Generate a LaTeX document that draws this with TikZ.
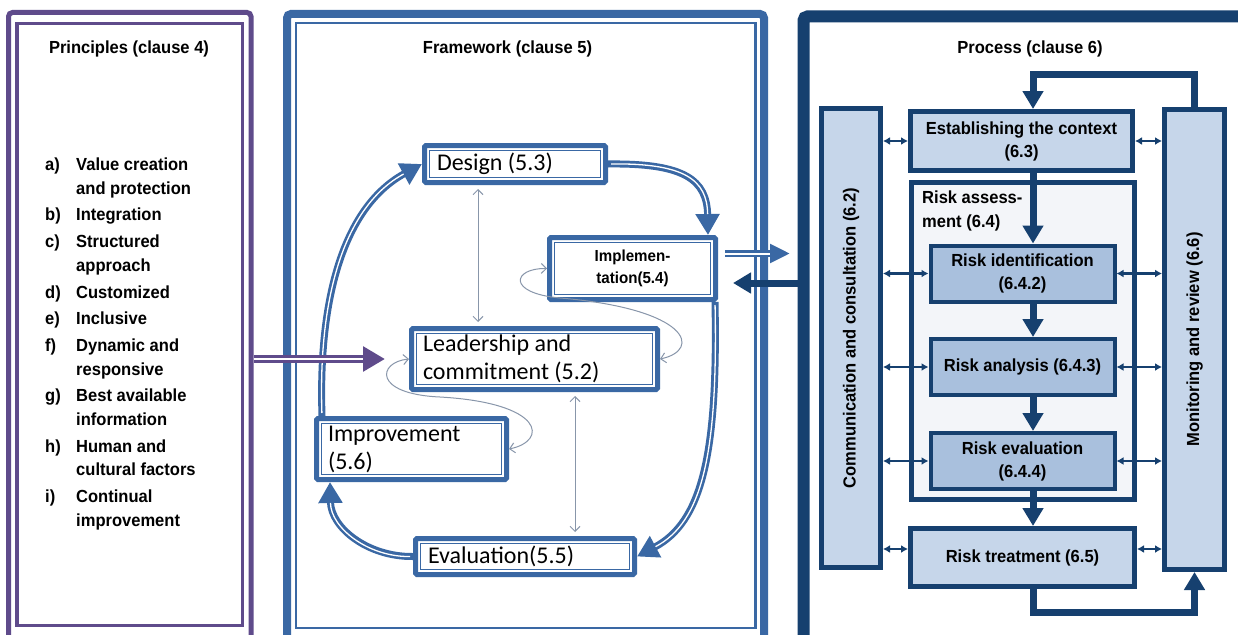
\documentclass[tikz,border=0pt]{standalone}
\usepackage{fontspec}
\setmainfont[FakeStretch=0.945]{Liberation Sans}
\newfontfamily\boxfont{Carlito}
\usetikzlibrary{arrows.meta,calc}

\definecolor{prin}{HTML}{5F4B8B}
\definecolor{fw}{HTML}{3A68A4}
\definecolor{navy}{HTML}{16406F}
\definecolor{lightfill}{HTML}{C6D6EA}
\definecolor{midfill}{HTML}{A9C0DD}
\definecolor{pale}{HTML}{F3F5F9}
\definecolor{thingray}{HTML}{8896AA}

\begin{document}
\begin{tikzpicture}[x=1pt,y=-1pt,
  every node/.append style={execute at begin node={\spaceskip=0pt\xspaceskip=0pt\relax}},
  frame/.style={draw=#1, rounded corners=4, inner sep=0},
  hd/.style={font=\fontsize{17.5}{20}\selectfont\bfseries},
  fwbox/.style={draw=fw, line width=5, rounded corners=1.5, fill=white, inner ysep=0,
    font=\boxfont\fontsize{24}{28}\selectfont, align=left},
  fwinner/.style={draw=fw, line width=1.5},
  fwarrow/.style={draw=fw, line width=7, -{Triangle[width=23pt,length=21pt]},
    postaction={draw=white, line width=1.3, -, shorten >=21pt, shorten <=3pt}},
  thinarr/.style={draw=thingray, line width=1,
    {Straight Barb[length=5pt,width=10pt]}-{Straight Barb[length=5pt,width=10pt]}},
  psbox/.style={draw=navy, line width=5, fill=lightfill, inner sep=0, align=center,
    font=\fontsize{17.5}{23}\selectfont\bfseries},
  riskbox/.style={psbox, line width=4, fill=midfill},
  bigarrow/.style={draw=navy, line width=7, -{Triangle[width=20pt,length=18pt]}},
  smallarr/.style={draw=navy, line width=2.5,
    {Latex[width=8pt,length=7pt]}-{Latex[width=8pt,length=7pt]}}
]
\useasboundingbox (0,0) rectangle (1238,634);
\clip (0,0) rectangle (1238,634);
\fill[white] (0,0) rectangle (1238,634);

% ---------- the three panels ----------
\node[frame=prin, line width=5, minimum width=242.5, minimum height=632.5] (pr) at (129.75,328.75) {};
\draw[prin, line width=3.5] (17,23.5) rectangle (242.5,625.5);

\node[frame=fw, line width=8, minimum width=477, minimum height=631] (fwk) at (525.5,329.5) {};
\draw[fw, line width=2.5] (296,23) rectangle (755.5,628);

\node[frame=navy, line width=12, minimum width=446.5, minimum height=628.5] (prc) at (1026.75,330.75) {};

% ---------- titles ----------
\node[hd, anchor=base] (prtitle) at (129,53.3) {Principles (clause 4)};
\node[hd, anchor=base] (fwtitle) at (507.5,53.3) {Framework (clause 5)};
\node[hd, anchor=base] (pctitle) at (1030,53.3) {Process (clause 6)};

% ---------- principles list ----------
\node[anchor=north west, inner sep=0, font=\fontsize{17.5}{23.5}\selectfont\bfseries] (plist) at (45,154) {%
\begin{tabular}{@{}p{31pt}@{}l@{}}
a) & Value creation\\ & and protection\\[3.3pt]
b) & Integration\\[3.3pt]
c) & Structured\\ & approach\\[3.3pt]
d) & Customized\\[3.3pt]
e) & Inclusive\\[3.3pt]
f) & Dynamic and\\ & responsive\\[3.3pt]
g) & Best available\\ & information\\[3.3pt]
h) & Human and\\ & cultural factors\\[3.3pt]
i) & Continual\\ & improvement
\end{tabular}};

% ---------- framework cycle ----------
\node[fwbox, inner xsep=12.5, text width=156, minimum width=181, minimum height=37] (des) at (515,164) {Design (5.3)};
\node[fwbox, inner xsep=8, text width=150, minimum width=166, minimum height=62, align=center,
  font=\fontsize{16}{22}\selectfont\bfseries] (imp) at (632.5,268.5) {Implemen-\\tation(5.4)};
\node[fwbox, inner xsep=11.5, text width=223, minimum width=246, minimum height=61] (lead) at (534.5,359) {Leadership and\\commitment (5.2)};
\node[fwbox, inner xsep=11.5, text width=167, minimum width=190, minimum height=61] (impr) at (411.5,449) {Improvement\\(5.6)};
\node[fwbox, inner xsep=12.5, text width=194, minimum width=219, minimum height=36] (eva) at (525,556.5) {Evaluation(5.5)};
\foreach \n in {des,imp,lead,impr,eva}
  \draw[fwinner] ([shift={(7.5,7.5)}]\n.north west) rectangle ([shift={(-7.5,-7.5)}]\n.south east);

\draw[fwarrow] (des.east) .. controls (685,163) and (707,180) .. ([shift={(-10,0)}]imp.north east);
\draw[fwarrow] ([shift={(-3,0)}]imp.south east) .. controls (718,455) and (702,522) .. (eva.east);
\draw[fwarrow] (eva.west) .. controls (368,557) and (331,528) .. ([shift={(16,0)}]impr.south west);
\draw[fwarrow] ([shift={(8,0)}]impr.north west) .. controls (318,295) and (345,206) .. (des.west);

% interactions between the elements
\coordinate (gx1) at (478,0);
\coordinate (gx2) at (575,0);
\draw[thinarr, shorten <=4pt, shorten >=4pt] (des.south -| gx1) -- (lead.north -| gx1);
\draw[thinarr, shorten <=4pt, shorten >=4pt] (lead.south -| gx2) -- (eva.north -| gx2);
\draw[thinarr] (imp.west) .. controls (513,268) and (506,293) .. (560,298)
  .. controls (690,309) and (702,350) .. (lead.east);
\draw[thinarr] (lead.west) .. controls (378,362) and (372,394) .. (440,397)
  .. controls (545,403) and (548,441) .. (impr.east);

% principles feed leadership
\draw[draw=prin, line width=8.5, -{Triangle[width=24pt,length=22pt]},
  postaction={draw=white, line width=2.5, -, shorten >=22pt}]
  (pr.east |- lead.west) -- ([shift={(-24,0)}]lead.west);

% ---------- process ----------
\node[psbox, rotate=90, minimum width=459, minimum height=59] (com) at (851,338) {Communication and consultation (6.2)};
\node[psbox, rotate=90, minimum width=460, minimum height=60] (mon) at (1194.5,339.5) {Monitoring and review (6.6)};
\node[psbox, minimum width=222, minimum height=59] (est) at (1021.5,141) {Establishing the context\\(6.3)};
\node[psbox, fill=pale, minimum width=223, minimum height=317] (ra) at (1023,341) {};
\node[anchor=north west, inner sep=0, align=left, font=\fontsize{17.5}{24}\selectfont\bfseries] (ratext) at (922,191) {Risk assess-\\ment (6.4)};
\node[riskbox, minimum width=184, minimum height=56] (rid) at (1022.5,273.5) {Risk identification\\(6.4.2)};
\node[riskbox, minimum width=184, minimum height=56] (ran) at (1022.5,367) {Risk analysis (6.4.3)};
\node[riskbox, minimum width=184, minimum height=56] (rev) at (1022.5,461) {Risk evaluation\\(6.4.4)};
\node[psbox, minimum width=224, minimum height=58] (rtr) at (1022.5,557.5) {Risk treatment (6.5)};

\coordinate (ax) at (1033,0);
\draw[bigarrow] (mon.east) |- ($(est.north -| ax)+(0,-35)$) -- (est.north -| ax);
\draw[bigarrow] (est.south -| ax) -- (rid.north -| ax);
\draw[bigarrow] (rid.south -| ax) -- (ran.north -| ax);
\draw[bigarrow] (ran.south -| ax) -- (rev.north -| ax);
\draw[bigarrow] (rev.south -| ax) -- (rtr.north -| ax);
\draw[bigarrow] (rtr.south -| ax) -- ++(0,23) -| (mon.west);

\foreach \n in {est,rid,ran,rev} {
  \draw[smallarr] (com.south |- \n.west) -- (\n.west);
  \draw[smallarr] (\n.east) -- (mon.north |- \n.east);
}
\draw[smallarr] (com.south |- 0,549) -- (rtr.west |- 0,549);
\draw[smallarr] (rtr.east |- 0,549) -- (mon.north |- 0,549);

% ---------- framework <-> process ----------
\coordinate (fwout) at (790,253.5);
\coordinate (pcin) at (733,283);
\draw[draw=fw, line width=7, -{Triangle[width=18pt,length=20pt]},
  postaction={draw=white, line width=2, -, shorten >=20pt}]
  (imp.east |- fwout) ++(7,0) -- (fwout);
\draw[bigarrow] (prc.west |- pcin) -- (pcin);
\end{tikzpicture}
\end{document}
